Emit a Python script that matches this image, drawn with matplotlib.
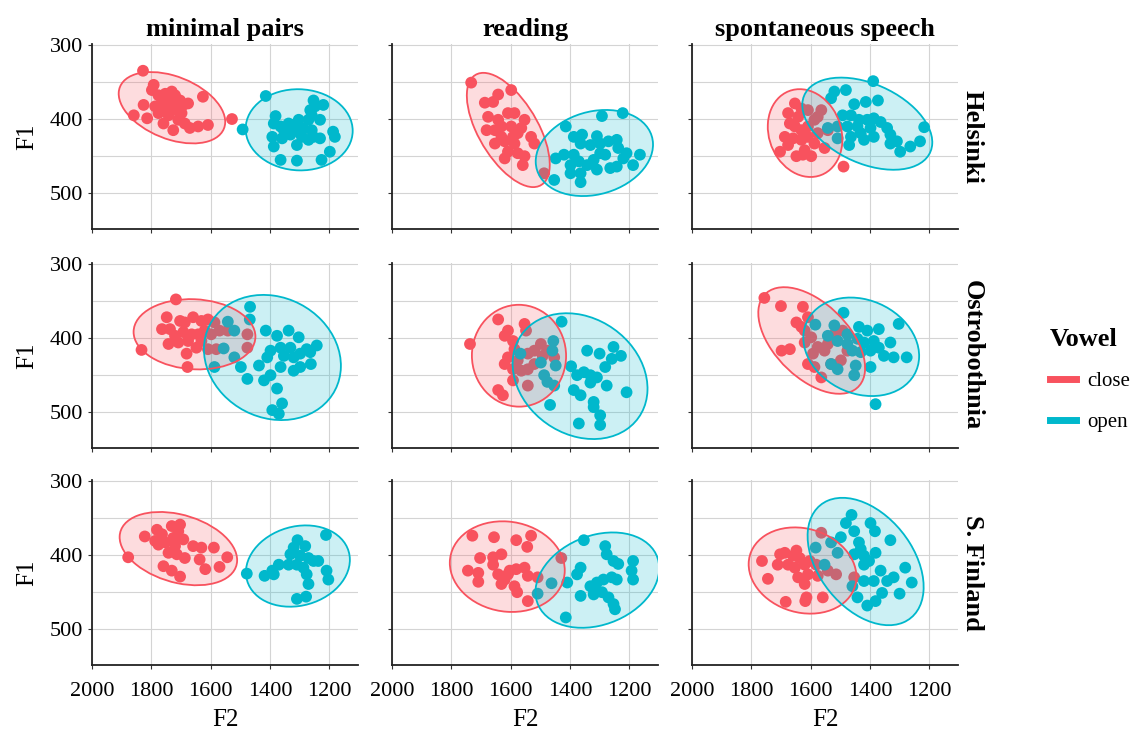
import numpy as np
import matplotlib
matplotlib.use('Agg')
import matplotlib.pyplot as plt
from matplotlib.patches import Ellipse
from matplotlib.lines import Line2D

plt.rcParams['font.family'] = ['Liberation Serif', 'DejaVu Serif']

# ---- data (F2, F1 in Hz) ----
dialects = ['Helsinki', 'Ostrobothnia', 'S. Finland']
styles = ['minimal pairs', 'reading', 'spontaneous speech']
vowels = ['close', 'open']

# Helsinki
hel_mp_close_f2 = [1828, 1792, 1798, 1776, 1753, 1731, 1720, 1703, 1676, 1626, 1826, 1859, 1814, 1787, 1764, 1742,
                   1714, 1698, 1759, 1726, 1709, 1687, 1670, 1642, 1609, 1731, 1764, 1742, 1776, 1692, 1528]
hel_mp_close_f1 = [335, 354, 361, 368, 366, 363, 368, 375, 379, 370, 381, 395, 399, 383, 388, 383,
                   388, 392, 406, 415, 401, 406, 412, 410, 408, 377, 377, 395, 392, 381, 400]
hel_mp_open_f2 = [1414, 1381, 1387, 1364, 1337, 1320, 1303, 1287, 1270, 1259, 1253, 1248, 1220, 1264, 1392, 1387,
                  1359, 1331, 1309, 1292, 1270, 1253, 1231, 1187, 1181, 1198, 1226, 1309, 1364, 1320, 1298, 1492,
                  1259, 1353, 1231]
hel_mp_open_f1 = [369, 396, 406, 410, 406, 408, 401, 413, 401, 395, 375, 383, 381, 388, 424, 437,
                  426, 421, 435, 424, 428, 424, 426, 417, 424, 444, 455, 456, 455, 415, 419, 414,
                  415, 415, 401]
hel_rd_close_f2 = [1733, 1687, 1659, 1642, 1598, 1676, 1642, 1609, 1587, 1553, 1681, 1653, 1631, 1598, 1564, 1531,
                   1520, 1653, 1620, 1587, 1609, 1576, 1553, 1620, 1559, 1487, 1592, 1576, 1631]
hel_rd_close_f1 = [351, 378, 377, 367, 361, 397, 401, 392, 392, 401, 415, 415, 410, 410, 412, 424,
                   433, 433, 430, 433, 444, 446, 450, 453, 462, 473, 424, 419, 424]
hel_rd_open_f2 = [1414, 1292, 1222, 1387, 1359, 1309, 1364, 1331, 1298, 1270, 1242, 1237, 1209, 1164, 1187, 1448,
                  1420, 1398, 1370, 1342, 1320, 1309, 1264, 1242, 1453, 1364, 1387, 1281, 1220, 1364, 1398, 1298]
hel_rd_open_f1 = [410, 396, 392, 424, 421, 423, 433, 435, 433, 430, 428, 439, 446, 448, 462, 453,
                  448, 462, 457, 462, 455, 468, 466, 464, 482, 485, 448, 448, 453, 473, 473, 446]
hel_sp_close_f2 = [1653, 1631, 1609, 1676, 1642, 1670, 1653, 1631, 1609, 1587, 1564, 1576, 1687, 1659, 1631, 1609,
                   1587, 1553, 1676, 1703, 1648, 1626, 1598, 1576, 1542, 1489, 1620]
hel_sp_close_f1 = [379, 386, 388, 392, 397, 406, 410, 415, 410, 401, 388, 397, 424, 426, 428, 424,
                   433, 439, 435, 444, 450, 448, 450, 419, 415, 464, 442]
hel_sp_open_f2 = [1389, 1520, 1481, 1531, 1453, 1414, 1373, 1492, 1464, 1437, 1409, 1387, 1364, 1542, 1509, 1476,
                  1442, 1398, 1342, 1331, 1509, 1464, 1420, 1387, 1331, 1309, 1298, 1264, 1231, 1217, 1470, 1431]
hel_sp_open_f1 = [349, 363, 361, 372, 380, 377, 375, 395, 395, 401, 401, 399, 404, 412, 410, 410,
                  410, 412, 412, 421, 426, 424, 428, 424, 433, 430, 444, 437, 430, 411, 435, 419]

# Ostrobothnia
ost_mp_close_f2 = [1717, 1748, 1764, 1737, 1703, 1687, 1659, 1631, 1609, 1587, 1720, 1692, 1664, 1642, 1620, 1598,
                   1570, 1742, 1709, 1676, 1648, 1609, 1581, 1681, 1833, 1678, 1476, 1476, 1542, 1631]
ost_mp_close_f1 = [348, 372, 388, 388, 377, 379, 372, 377, 375, 379, 397, 392, 395, 395, 390, 395,
                   390, 408, 406, 404, 413, 415, 415, 421, 416, 439, 395, 413, 390, 404]
ost_mp_open_f2 = [1467, 1468, 1542, 1520, 1414, 1376, 1337, 1303, 1364, 1331, 1276, 1242, 1398, 1409, 1353, 1320,
                  1298, 1264, 1556, 1520, 1498, 1476, 1587, 1437, 1364, 1320, 1298, 1262, 1420, 1398, 1376, 1359,
                  1392, 1370]
ost_mp_open_f1 = [358, 375, 378, 390, 390, 397, 390, 399, 413, 413, 415, 410, 417, 426, 424, 426,
                  421, 419, 414, 426, 439, 455, 439, 437, 439, 444, 439, 435, 457, 450, 468, 488,
                  497, 502]
ost_rd_close_f2 = [1642, 1609, 1553, 1548, 1620, 1592, 1737, 1587, 1609, 1576, 1542, 1520, 1498, 1476, 1453, 1520,
                   1542, 1620, 1592, 1564, 1592, 1542, 1642, 1626, 1492]
ost_rd_close_f1 = [375, 390, 381, 390, 397, 404, 408, 415, 426, 430, 421, 417, 408, 417, 426, 435,
                   442, 435, 442, 444, 457, 464, 470, 477, 424]
ost_rd_open_f2 = [1428, 1456, 1459, 1567, 1498, 1448, 1396, 1342, 1300, 1253, 1228, 1259, 1281, 1487, 1476, 1453,
                  1376, 1353, 1331, 1309, 1276, 1387, 1364, 1320, 1298, 1298, 1370, 1467, 1209, 1331, 1320]
ost_rd_open_f1 = [378, 404, 417, 421, 433, 437, 438, 417, 421, 412, 424, 428, 439, 450, 459, 464,
                  450, 446, 450, 453, 464, 470, 477, 486, 504, 517, 515, 490, 473, 460, 493]
ost_sp_close_f2 = [1756, 1700, 1626, 1609, 1648, 1620, 1698, 1670, 1620, 1598, 1576, 1553, 1520, 1492, 1498, 1609,
                   1587, 1564, 1531, 1476, 1631, 1592, 1542]
ost_sp_close_f1 = [346, 357, 358, 372, 379, 390, 417, 415, 406, 399, 412, 417, 395, 390, 430, 435,
                   439, 453, 435, 417, 385, 421, 408]
ost_sp_open_f2 = [1489, 1584, 1542, 1520, 1476, 1437, 1409, 1370, 1303, 1442, 1420, 1387, 1331, 1509, 1459, 1431,
                  1398, 1353, 1320, 1276, 1531, 1509, 1448, 1398, 1453, 1381, 1476, 1370]
ost_sp_open_f1 = [366, 382, 397, 383, 395, 385, 390, 388, 381, 401, 406, 404, 406, 404, 417, 419,
                  417, 424, 426, 426, 435, 442, 437, 439, 450, 489, 408, 413]

# S. Finland
sf_mp_close_f2 = [1878, 1822, 1781, 1764, 1731, 1703, 1709, 1787, 1753, 1726, 1692, 1659, 1631, 1589, 1742, 1714,
                  1687, 1637, 1618, 1570, 1544, 1759, 1731, 1703, 1776, 1720]
sf_mp_close_f1 = [403, 375, 366, 372, 361, 359, 368, 381, 383, 377, 379, 388, 390, 390, 397, 399,
                  404, 406, 419, 416, 403, 415, 421, 429, 386, 388]
sf_mp_open_f2 = [1478, 1418, 1392, 1370, 1387, 1331, 1320, 1307, 1281, 1298, 1270, 1237, 1309, 1287, 1276, 1270,
                 1209, 1203, 1211, 1309, 1278, 1337, 1253]
sf_mp_open_f1 = [425, 428, 421, 413, 426, 399, 390, 380, 388, 401, 404, 408, 413, 417, 426, 439,
                 421, 433, 373, 459, 456, 413, 408]
sf_rd_close_f2 = [1729, 1656, 1581, 1531, 1544, 1703, 1659, 1631, 1744, 1709, 1709, 1659, 1642, 1620, 1631, 1603,
                  1581, 1553, 1542, 1509, 1587, 1578, 1542, 1429, 1609]
sf_rd_close_f1 = [374, 376, 380, 374, 389, 404, 403, 399, 421, 424, 436, 413, 426, 433, 439, 421,
                  419, 417, 428, 430, 442, 450, 462, 404, 426]
sf_rd_open_f2 = [1353, 1281, 1276, 1253, 1237, 1187, 1192, 1187, 1364, 1376, 1409, 1462, 1509, 1414, 1364, 1331,
                 1309, 1287, 1259, 1242, 1320, 1292, 1270, 1253, 1248, 1320]
sf_rd_open_f1 = [380, 388, 399, 408, 412, 408, 421, 433, 417, 426, 437, 438, 452, 484, 455, 442,
                 437, 433, 430, 433, 453, 450, 457, 466, 473, 446]
sf_sp_close_f2 = [1764, 1744, 1703, 1687, 1711, 1648, 1637, 1676, 1653, 1620, 1603, 1581, 1642, 1609, 1576, 1620,
                  1614, 1618, 1684, 1559, 1564, 1542, 1514, 1453, 1659]
sf_sp_close_f1 = [408, 432, 399, 397, 413, 394, 404, 413, 417, 413, 408, 413, 430, 426, 428, 439,
                  457, 462, 463, 457, 370, 421, 426, 430, 401]
sf_sp_open_f2 = [1462, 1481, 1453, 1398, 1383, 1331, 1498, 1531, 1509, 1437, 1431, 1453, 1420, 1381, 1403, 1553,
                 1583, 1420, 1364, 1320, 1281, 1259, 1300, 1459, 1442, 1409, 1381, 1359, 1387, 1342, 1420]
sf_sp_open_f1 = [346, 357, 368, 357, 368, 380, 376, 383, 397, 383, 392, 399, 401, 397, 408, 413,
                 390, 413, 421, 430, 417, 437, 452, 442, 457, 468, 462, 451, 435, 435, 435]

x_ticks = [2000, 1800, 1600, 1400, 1200]
y_ticks = [300, 400, 500]

# lookup: (row, col) -> {vowel: (f2, f1)}
panels = {
    (0, 0): {'close': (hel_mp_close_f2, hel_mp_close_f1), 'open': (hel_mp_open_f2, hel_mp_open_f1)},
    (0, 1): {'close': (hel_rd_close_f2, hel_rd_close_f1), 'open': (hel_rd_open_f2, hel_rd_open_f1)},
    (0, 2): {'close': (hel_sp_close_f2, hel_sp_close_f1), 'open': (hel_sp_open_f2, hel_sp_open_f1)},
    (1, 0): {'close': (ost_mp_close_f2, ost_mp_close_f1), 'open': (ost_mp_open_f2, ost_mp_open_f1)},
    (1, 1): {'close': (ost_rd_close_f2, ost_rd_close_f1), 'open': (ost_rd_open_f2, ost_rd_open_f1)},
    (1, 2): {'close': (ost_sp_close_f2, ost_sp_close_f1), 'open': (ost_sp_open_f2, ost_sp_open_f1)},
    (2, 0): {'close': (sf_mp_close_f2, sf_mp_close_f1), 'open': (sf_mp_open_f2, sf_mp_open_f1)},
    (2, 1): {'close': (sf_rd_close_f2, sf_rd_close_f1), 'open': (sf_rd_open_f2, sf_rd_open_f1)},
    (2, 2): {'close': (sf_sp_close_f2, sf_sp_close_f1), 'open': (sf_sp_open_f2, sf_sp_open_f1)},
}

colors = {'close': '#F8525E', 'open': '#00B8CC'}


def conf_ellipse(x, y, color, ax):
    # 95% confidence ellipse from the sample covariance
    x = np.asarray(x, float)
    y = np.asarray(y, float)
    cov = np.cov(x, y)
    vals, vecs = np.linalg.eigh(cov)
    order = vals.argsort()[::-1]
    vals, vecs = vals[order], vecs[:, order]
    angle = np.degrees(np.arctan2(vecs[1, 0], vecs[0, 0]))
    r = 2.55
    w, h = 2 * r * np.sqrt(vals)
    e = Ellipse((x.mean(), y.mean()), w, h, angle=angle, facecolor=color, alpha=0.2,
                edgecolor='none', zorder=3)
    ax.add_patch(e)
    e2 = Ellipse((x.mean(), y.mean()), w, h, angle=angle, facecolor='none',
                 edgecolor=color, lw=1.3, zorder=4)
    ax.add_patch(e2)


fig = plt.figure(figsize=(11.35, 7.35), dpi=100)
W, H = 1135, 735
lefts = [92, 392, 692]
tops = [44, 263, 480]
pw, ph = 266, 185

for r in range(3):
    for c in range(3):
        ax = fig.add_axes([lefts[c] / W, (H - tops[r] - ph) / H, pw / W, ph / H])
        for v in vowels:
            f2, f1 = panels[(r, c)][v]
            ax.scatter(f2, f1, s=72, color=colors[v], edgecolors='none', zorder=2)
        for v in vowels:
            f2, f1 = panels[(r, c)][v]
            conf_ellipse(f2, f1, colors[v], ax)

        ax.set_xlim(1992, 1103)
        ax.set_ylim(548, 299)
        ax.set_xticks(x_ticks)
        ax.set_yticks(y_ticks)
        ax.set_xticks([], minor=True)
        ax.set_yticks([350, 450], minor=True)
        ax.grid(True, which='both', color='#d4d4d4', lw=0.8, zorder=0)
        ax.set_axisbelow(True)
        for s in ['top', 'right']:
            ax.spines[s].set_visible(False)
        for s in ['left', 'bottom']:
            ax.spines[s].set_color('#222222')
            ax.spines[s].set_linewidth(1.3)
        ax.tick_params(which='both', length=3, color='#333333', labelsize=16)
        ax.tick_params(axis='x', pad=9)
        ax.tick_params(which='minor', length=0)
        if c == 0:
            ax.set_ylabel('F1', fontsize=18, labelpad=8)
        else:
            ax.set_yticklabels([])
        if r == 2:
            ax.set_xlabel('F2', fontsize=18, labelpad=6)
        else:
            ax.set_xticklabels([])
        if r == 0:
            ax.set_title(styles[c], fontsize=19, fontweight='bold', pad=6)
        if c == 2:
            ax.text(1.01, 0.5, dialects[r], transform=ax.transAxes, rotation=270,
                    ha='left', va='center', fontsize=19, fontweight='bold')

handles = [Line2D([0], [0], color=colors[v], lw=5) for v in vowels]
leg = fig.legend(handles, vowels, loc='center left', bbox_to_anchor=(1046 / W, 1 - 380 / H),
                 frameon=False, fontsize=15, title='Vowel', handlelength=1.25,
                 labelspacing=1.0, handletextpad=0.55, borderaxespad=0, borderpad=0.2)
leg.get_title().set_fontweight('bold')
leg.get_title().set_fontsize(19)
leg._legend_box.align = 'left'

fig.savefig('out.png', dpi=100)
